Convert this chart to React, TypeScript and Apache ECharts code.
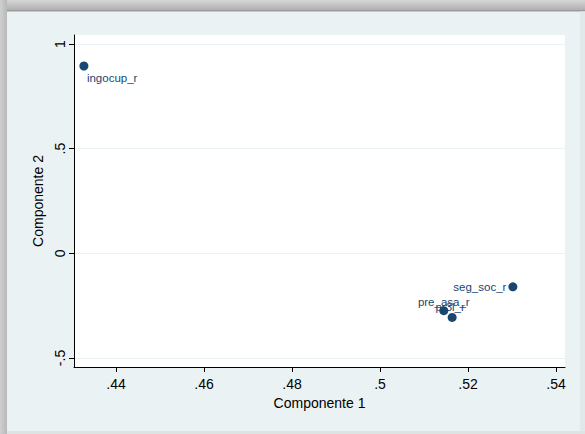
import React, { useEffect, useRef } from "react";
import * as echarts from "echarts";

const names = ["ingocup_r", "seg_soc_r", "pre_asa_r", "pr3l_r"];
const comp1 = [0.4327, 0.5302, 0.5145, 0.5164];
const comp2 = [0.895, -0.16, -0.274, -0.306];
const xTicks = [0.44, 0.46, 0.48, 0.5, 0.52, 0.54];
const yTicks = [-0.5, 0, 0.5, 1];

const fmt = (v: number) => {
  const s = String(Math.round(v * 1000) / 1000);
  return s.replace(/^0\./, ".").replace(/^-0\./, "-.");
};

// position relative to marker's 9x9 box (centre at 4.5, 4.5)
const labelCfg: any[] = [
  { position: [7.5, 16.5], align: "left", verticalAlign: "middle" },
  { position: [-2, 4.5], align: "right", verticalAlign: "middle" },
  { position: [4.5, -4.5], align: "center", verticalAlign: "middle" },
  { position: [2.5, -6], align: "center", verticalAlign: "middle" },
];

export default function App() {
  const ref = useRef<HTMLDivElement>(null);
  useEffect(() => {
    const chart = echarts.init(ref.current!, undefined, { renderer: "svg" });
    const navy = "#1a476f";
    const font = "Liberation Sans, Arial, sans-serif";
    chart.setOption({
      animation: false,
      backgroundColor: "#eaf2f3",
      graphic: [
        {
          type: "rect",
          z: -10,
          shape: { x: 0, y: 0, width: 585, height: 10 },
          style: {
            fill: new echarts.graphic.LinearGradient(0, 0, 0, 1, [
              { offset: 0, color: "#d6d6d6" },
              { offset: 1, color: "#b0b0b0" },
            ]),
          },
          silent: true,
        },
        {
          type: "rect",
          z: -10,
          shape: { x: 0, y: 10, width: 585, height: 1.5 },
          style: { fill: "#9c9c9c" },
          silent: true,
        },
        {
          type: "rect",
          z: -10,
          shape: { x: 0, y: 0, width: 7, height: 434 },
          style: {
            fill: new echarts.graphic.LinearGradient(0, 0, 1, 0, [
              { offset: 0, color: "#d0d0d0" },
              { offset: 1, color: "#b8b8b8" },
            ]),
          },
          silent: true,
        },
        {
          type: "rect",
          z: -10,
          shape: { x: 580, y: 11.5, width: 5, height: 423 },
          style: { fill: "#e2e9ea" },
          silent: true,
        },
        {
          type: "rect",
          z: -10,
          shape: { x: 7, y: 431, width: 578, height: 3 },
          style: { fill: "#dde3e3" },
          silent: true,
        },
        {
          type: "rect",
          z: -5,
          shape: { x: 74, y: 35, width: 491, height: 332 },
          style: { fill: "#ffffff" },
          silent: true,
        },
      ],
      grid: { left: 74, top: 35, right: 20, bottom: 67, containLabel: false },
      xAxis: {
        type: "value",
        min: 0.43045,
        max: 0.54205,
        name: "Componente 1",
        nameLocation: "middle",
        nameGap: 22,
        nameTextStyle: { color: "#000", fontSize: 14, fontFamily: font },
        axisLine: { show: true, onZero: false, lineStyle: { color: "#000", width: 1 } },
        axisTick: { show: true, length: 5, customValues: xTicks, lineStyle: { color: "#000" } },
        axisLabel: {
          customValues: xTicks,
          formatter: fmt,
          color: "#000",
          fontSize: 14,
          fontFamily: font,
          margin: 10,
        },
        splitLine: { show: false },
      },
      yAxis: {
        type: "value",
        min: -0.543,
        max: 1.043,
        name: "Componente 2",
        nameLocation: "middle",
        nameRotate: 90,
        nameGap: 27,
        nameTextStyle: { color: "#000", fontSize: 14, fontFamily: font },
        axisLine: { show: true, onZero: false, lineStyle: { color: "#000", width: 1 } },
        axisTick: { show: true, length: 5, customValues: yTicks, lineStyle: { color: "#000" } },
        axisLabel: {
          customValues: yTicks,
          formatter: fmt,
          rotate: 90,
          color: "#000",
          fontSize: 14,
          fontFamily: font,
          margin: 7,
        },
        splitLine: { show: true, lineStyle: { color: "#eaf2f3", width: 1 } },
      },
      series: [
        {
          type: "scatter",
          symbol: "circle",
          symbolSize: 9,
          itemStyle: { color: navy, opacity: 1 },
          label: {
            show: true,
            color: navy,
            fontSize: 11.5,
            fontFamily: font,
            textBorderWidth: 0,
            formatter: (p: any) => p.data.name,
          },
          labelLayout: { hideOverlap: false },
          data: names.map((n, i) => ({
            name: n,
            value: [comp1[i], comp2[i]],
            label: labelCfg[i],
          })),
        },
      ],
    });
    return () => chart.dispose();
  }, []);
  return (
    <div
      ref={ref}
      style={{ position: "fixed", left: 0, top: 0, width: 585, height: 434 }}
    />
  );
}
